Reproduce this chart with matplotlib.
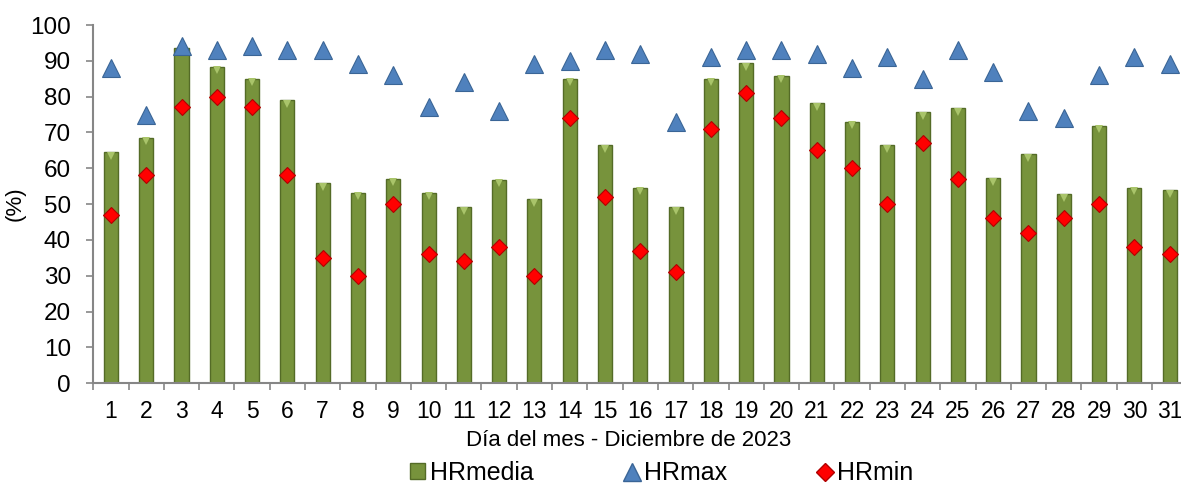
import matplotlib.pyplot as plt
from matplotlib.lines import Line2D
from matplotlib.patches import Patch
import numpy as np

plt.rcParams['font.family'] = ['Liberation Sans', 'DejaVu Sans']

# Humedad relativa diaria, diciembre 2023
dias = list(range(1, 32))
hr_media = [64.5, 68.5, 93.7, 88.4, 85.0, 79.0, 55.8, 53.2, 57.1, 53.2,
            49.2, 56.8, 51.4, 85.0, 66.5, 54.6, 49.2, 85.0, 89.4, 85.8,
            78.1, 73.0, 66.5, 75.6, 76.7, 57.2, 64.0, 52.8, 71.9, 54.6, 53.9]
hr_max = [88, 75, 94, 93, 94, 93, 93, 89, 86, 77,
          84, 76, 89, 90, 93, 92, 73, 91, 93, 93,
          92, 88, 91, 85, 93, 87, 76, 74, 86, 91, 89]
hr_min = [47, 58, 77, 80, 77, 58, 35, 30, 50, 36,
          34, 38, 30, 74, 52, 37, 31, 71, 81, 74,
          65, 60, 50, 67, 57, 46, 42, 46, 50, 38, 36]

green = '#77933C'
green_edge = '#546B27'
green_light = '#A9C46A'
blue = '#4F81BD'
blue_edge = '#3A6596'
red = '#FF0000'
red_edge = '#B00000'
axis_gray = '#868686'

W, H = 1181, 488
fig = plt.figure(figsize=(W / 100, H / 100), dpi=100)
# axes runs slightly past the right edge, like the cropped original
ax = fig.add_axes([93.3 / W, 1 - 383.3 / H, 1094 / W, 358.3 / H])

x = np.arange(len(dias))
ax.bar(x, hr_media, width=0.40, color=green, edgecolor=green_edge,
       linewidth=1.0, zorder=2)
# bevel highlight on bar tops
ax.plot(x, np.array(hr_media) - 1.0, 'v', color=green_light, markersize=6,
        markeredgewidth=0, zorder=3)
ax.plot(x, hr_max, '^', color=blue, markeredgecolor=blue_edge,
        markeredgewidth=0.8, markersize=13, linestyle='none', zorder=4)
ax.plot(x, hr_min, 'D', color=red, markeredgecolor=red_edge,
        markeredgewidth=0.8, markersize=8.5, linestyle='none', zorder=5)

ax.set_xlim(-0.5, len(dias) - 0.5)
ax.set_ylim(0, 100)
ax.set_yticks(range(0, 101, 10))
ax.set_xticks(x)
ax.set_xticklabels([str(d) for d in dias])
ax.set_xticks(np.arange(-0.5, len(dias), 1.0), minor=True)
ax.tick_params(axis='x', which='major', length=0, pad=12, labelsize=16.5)
ax.tick_params(axis='x', which='minor', length=5, color=axis_gray, width=1.2)
ax.tick_params(axis='y', length=5, color=axis_gray, width=1.2, pad=11,
               labelsize=17.5)

for s in ['top', 'right']:
    ax.spines[s].set_visible(False)
for s in ['left', 'bottom']:
    ax.spines[s].set_color(axis_gray)
    ax.spines[s].set_linewidth(1.5)

ax.set_ylabel('(%)', fontsize=16)
ax.yaxis.set_label_coords((26 - 93.3) / 1094, 0.5)
fig.text(629 / W, 1 - 441 / H, 'Día del mes - Diciembre de 2023',
         ha='center', va='center', fontsize=16)

handles = [
    Patch(facecolor=green, edgecolor=green_edge, label='HRmedia'),
    Line2D([], [], marker='^', color=blue, markeredgecolor=blue_edge,
           markersize=13, linestyle='none', label='HRmax'),
    Line2D([], [], marker='D', color=red, markeredgecolor=red_edge,
           markersize=9, linestyle='none', label='HRmin'),
]
fig.legend(handles=handles, loc='center', bbox_to_anchor=(662 / W, 1 - 473 / H),
           ncol=3, frameon=False, fontsize=18, handlelength=0.6,
           handletextpad=0.2, columnspacing=3.6, handleheight=0.6,
           borderpad=0.1)

fig.savefig('out.png', dpi=100)
